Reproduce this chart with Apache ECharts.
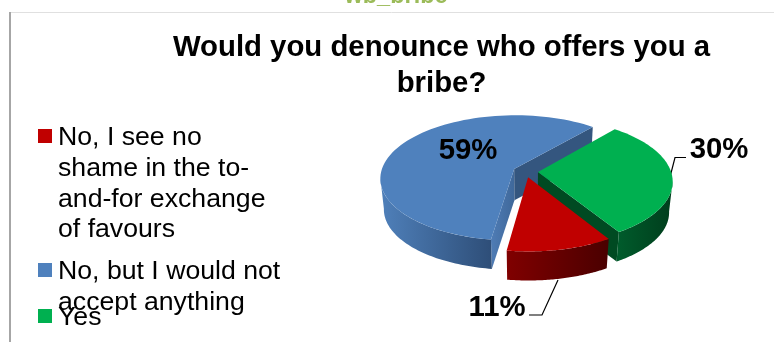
<!DOCTYPE html>
<html>
<head>
<meta charset="utf-8">
<style>html,body{margin:0;padding:0;background:#fff}#c{width:774px;height:342px}</style>
<script src="https://cdn.jsdelivr.net/npm/echarts@6/dist/echarts.min.js"></script>
</head>
<body>
<div id="c"></div>
<script>
// Survey answers, in legend order
const categories = ['No, I see no\nshame in the to-\nand-for exchange\nof favours', 'No, but I would not\naccept anything', 'Yes'];
const shares = [11, 59, 30];
const chartTitle = 'Would you denounce who offers you a\nbribe?';
const headerText = 'wb_bribe';

const FONT = '"Liberation Sans", Arial, sans-serif';

// Per-slice styling
const topColors = ['#C00000', '#4F81BD', '#00B050'];
const rimColors = [['#800000', '#4A0000'], ['#4F80BA', '#2E4E78'], ['#005C2C', '#003D1C']];
const cutColors = [['#800000', '#800000'], ['#34567F', '#34567F'], ['#004A22', '#004A22']];
const paintRank = [2, 0, 1];               // back-to-front
const legendY = [136, 270, 316];
const labelPos = [[497, 308], [468, 151], [719, 150]];

// Projection of the tilted disc
const CX = 525.5, CY = 171.5, RX = 133, RY = 62, K = 0.14, DEPTH = 31, TAPER = 0.025, EXPLODE = 0.094;
const FIRST_ANGLE = 58.4;                  // degrees clockwise from 3 o'clock

function project(x, y, z) {
  const s = 1 / (1 - K * y) / (1 + TAPER * z);
  return [CX + RX * x * s, CY + RY * y * s + DEPTH * z];
}
const rad = d => d * Math.PI / 180;
const sliceAngles = i => {
  const total = shares.reduce((a, b) => a + b, 0);
  let start = FIRST_ANGLE;
  for (let j = 0; j < i; j++) start += shares[j] / total * 360;
  return [start, start + shares[i] / total * 360];
};

function renderSlice(params, api) {
  const i = params.dataIndex;
  const [a0, a1] = sliceAngles(i);
  const mid = rad((a0 + a1) / 2);
  const ox = EXPLODE * Math.cos(mid), oy = EXPLODE * Math.sin(mid);
  const at = (deg, z) => project(ox + Math.cos(rad(deg)), oy + Math.sin(rad(deg)), z);
  const apex = z => project(ox, oy, z);
  const rank = paintRank[i] * 10;
  const grad = c => ({ type: 'linear', x: 0, y: 0, x2: 1, y2: 0, colorStops: [{ offset: 0, color: c[0] }, { offset: 1, color: c[1] }] });
  const poly = (points, fill, z2) => ({ type: 'polygon', shape: { points }, style: { fill }, z2 });
  const children = [];

  // Cut faces: only those turned toward the viewer
  if (Math.cos(rad(a0)) < 0) {
    children.push(poly([apex(0), at(a0, 0), at(a0, 1), apex(1)], grad(['#4F7CB5', '#3F689A']), rank + 1));
  }
  if (Math.cos(rad(a1)) > 0) {
    children.push(poly([apex(0), at(a1, 0), at(a1, 1), apex(1)], grad(cutColors[i]), rank + 1));
  }

  // Rim wall: the part of the arc on the near side of the silhouette
  const silA = Math.asin(K) * 180 / Math.PI;
  [0, 360].forEach(turn => {
    const lo = Math.max(a0, silA + turn), hi = Math.min(a1, 180 - silA + turn);
    if (hi > lo) {
      const upper = [], lower = [];
      for (let d = lo; d <= hi + 1e-6; d += (hi - lo) / 60) { upper.push(at(d, 0)); lower.unshift(at(d, 1)); }
      children.push(poly(upper.concat(lower), grad(rimColors[i]), rank + 2));
    }
  });

  // Top face
  const top = [apex(0)];
  for (let d = a0; d <= a1 + 1e-6; d += (a1 - a0) / 80) top.push(at(d, 0));
  children.push(poly(top, topColors[i], rank + 3));

  // Percentage label
  children.push({
    type: 'text', z2: 100,
    style: { text: api.value(0) + '%', x: labelPos[i][0], y: labelPos[i][1], fill: '#000', align: 'center', verticalAlign: 'middle', font: 'bold 29.33px ' + FONT }
  });
  return { type: 'group', children };
}

const legendGraphics = [];
categories.forEach((name, i) => {
  legendGraphics.push({ type: 'rect', shape: { x: 38, y: legendY[i] - 7, width: 14, height: 14 }, style: { fill: topColors[i] } });
  legendGraphics.push({ type: 'text', x: 58, y: legendY[i] - 13.35, style: { text: name, fill: '#000', font: '26.67px ' + FONT, lineHeight: 30.7, verticalAlign: 'top' } });
});

const chart = echarts.init(document.getElementById('c'), null, { renderer: 'canvas' });
chart.setOption({
  animation: false,
  backgroundColor: '#fff',
  title: {
    text: chartTitle, left: 436.5, top: 25, textAlign: 'center',
    textStyle: { fontFamily: FONT, fontSize: 29.33, fontWeight: 'bold', color: '#000', lineHeight: 36 }
  },
  graphic: [
    { type: 'text', x: 396, y: -3, style: { text: headerText, fill: '#9BBB59', font: 'bold 23.5px ' + FONT, align: 'center', verticalAlign: 'middle' } },
    { type: 'line', shape: { x1: 9, y1: 12.5, x2: 774, y2: 12.5 }, style: { stroke: '#E0E0E0', lineWidth: 1 } },
    { type: 'line', shape: { x1: 10, y1: 12, x2: 10, y2: 342 }, style: { stroke: '#A6A6A6', lineWidth: 2 } },
    // Leader lines from the rim to the outside labels
    { type: 'polyline', shape: { points: [[670, 177], [675, 157.5], [686, 157.5]] }, style: { stroke: '#000', lineWidth: 1.2, fill: null } },
    { type: 'polyline', shape: { points: [[558, 280], [542, 315], [529, 315]] }, style: { stroke: '#000', lineWidth: 1.2, fill: null } },
    ...legendGraphics
  ],
  series: [{
    type: 'custom',
    coordinateSystem: 'none',
    renderItem: renderSlice,
    data: shares.map(v => [v]),
    clip: false
  }]
});
</script>
</body>
</html>
